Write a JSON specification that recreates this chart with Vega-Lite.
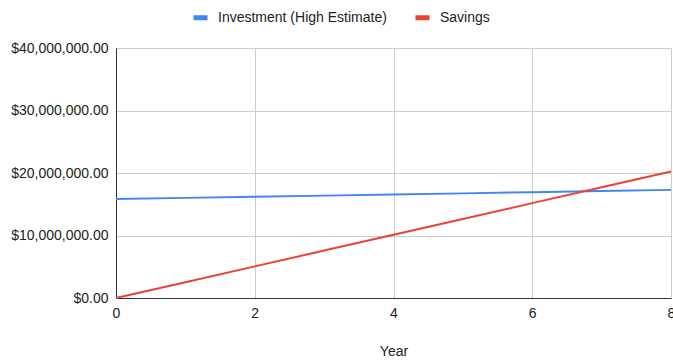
{
  "$schema": "https://vega.github.io/schema/vega-lite/v6.json",
  "autosize": {"type": "none"},
  "padding": {"left": 116, "top": 48, "right": 2, "bottom": 64},
  "width": 555,
  "height": 250,
  "background": "white",
  "config": {
    "font": "Liberation Sans",
    "view": {"stroke": null},
    "axis": {
      "labelFont": "Liberation Sans",
      "titleFont": "Liberation Sans",
      "labelFontSize": 14,
      "titleFontSize": 14,
      "labelColor": "#222222",
      "titleColor": "#222222",
      "titleFontWeight": "normal",
      "gridColor": "#cccccc",
      "gridWidth": 1,
      "domainColor": "#333333",
      "domainWidth": 1,
      "ticks": false
    },
    "legend": {
      "labelFont": "Liberation Sans",
      "labelFontSize": 14,
      "labelColor": "#222222",
      "labelLimit": 400
    }
  },
  "data": {
    "values": [
      {"Year": 0, "Series": "Investment (High Estimate)", "Value": 15850000},
      {"Year": 1, "Series": "Investment (High Estimate)", "Value": 16020000},
      {"Year": 2, "Series": "Investment (High Estimate)", "Value": 16200000},
      {"Year": 3, "Series": "Investment (High Estimate)", "Value": 16380000},
      {"Year": 4, "Series": "Investment (High Estimate)", "Value": 16560000},
      {"Year": 5, "Series": "Investment (High Estimate)", "Value": 16740000},
      {"Year": 6, "Series": "Investment (High Estimate)", "Value": 16930000},
      {"Year": 7, "Series": "Investment (High Estimate)", "Value": 17110000},
      {"Year": 8, "Series": "Investment (High Estimate)", "Value": 17300000},
      {"Year": 0, "Series": "Savings", "Value": 0},
      {"Year": 1, "Series": "Savings", "Value": 2530000},
      {"Year": 2, "Series": "Savings", "Value": 5060000},
      {"Year": 3, "Series": "Savings", "Value": 7590000},
      {"Year": 4, "Series": "Savings", "Value": 10120000},
      {"Year": 5, "Series": "Savings", "Value": 12650000},
      {"Year": 6, "Series": "Savings", "Value": 15180000},
      {"Year": 7, "Series": "Savings", "Value": 17710000},
      {"Year": 8, "Series": "Savings", "Value": 20240000}
    ]
  },
  "mark": {"type": "line", "strokeWidth": 2, "clip": false},
  "encoding": {
    "x": {
      "field": "Year",
      "type": "quantitative",
      "scale": {"domain": [0, 8], "nice": false, "zero": false},
      "axis": {
        "values": [0, 2, 4, 6, 8],
        "format": "d",
        "labelPadding": 8,
        "titlePadding": 24,
        "labelFlush": false
      }
    },
    "y": {
      "field": "Value",
      "type": "quantitative",
      "title": null,
      "scale": {"domain": [0, 40000000], "nice": false},
      "axis": {
        "values": [0, 10000000, 20000000, 30000000, 40000000],
        "format": "$,.2f",
        "labelPadding": 8
      }
    },
    "color": {
      "field": "Series",
      "type": "nominal",
      "title": null,
      "scale": {
        "domain": ["Investment (High Estimate)", "Savings"],
        "range": ["#4285F4", "#EA4335"]
      },
      "legend": {
        "orient": "none",
        "direction": "horizontal",
        "legendX": 75,
        "legendY": -40,
        "symbolType": "M-1,0H1",
        "symbolSize": 196,
        "symbolStrokeWidth": 5,
        "labelOffset": 8,
        "columnPadding": 18,
        "padding": 0
      }
    }
  }
}
